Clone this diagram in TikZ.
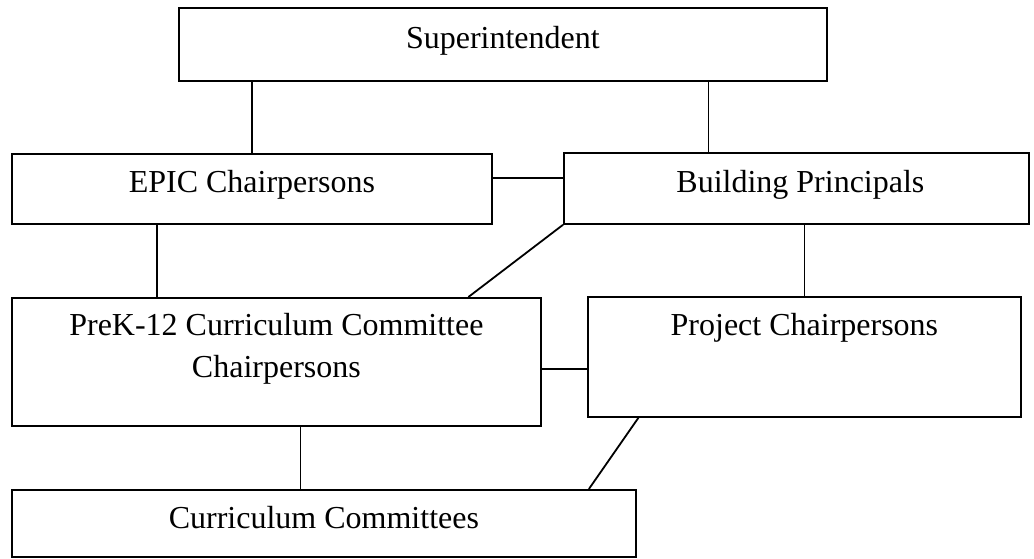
\documentclass[tikz,border=0pt]{standalone}
\usepackage{fontspec}
\setmainfont{Liberation Serif}
\begin{document}
\begin{tikzpicture}[x=1pt,y=-1pt,line width=1.8pt,
  box/.style={draw,rectangle,anchor=north west,inner sep=0pt},
  lbl/.style={anchor=base,align=center,inner sep=0pt,font=\fontsize{32}{42}\selectfont}]
\useasboundingbox (0,0) rectangle (1034,558);
% boxes
\node[box,minimum width=648pt,minimum height=73pt] (sup) at (178,7) {};
\node[box,minimum width=480pt,minimum height=70pt] (epic) at (11,153) {};
\node[box,minimum width=465pt,minimum height=71pt] (bldg) at (563,152) {};
\node[box,minimum width=529pt,minimum height=128pt] (prek) at (11,297) {};
\node[box,minimum width=433pt,minimum height=120pt] (proj) at (587,296) {};
\node[box,minimum width=624pt,minimum height=67pt] (curr) at (11,489) {};
% texts
\node[lbl] (suptxt) at ([yshift=-41pt]sup.north) {Superintendent};
\node[lbl] (epictxt) at ([yshift=-39pt]epic.north) {EPIC Chairpersons};
\node[lbl] (bldgtxt) at ([xshift=4pt,yshift=-40pt]bldg.north) {Building Principals};
\node[lbl] (prektxt) at ([yshift=-80pt]prek.north) {PreK-12 Curriculum Committee\\Chairpersons};
\node[lbl] (projtxt) at ([yshift=-39pt]proj.north) {Project Chairpersons};
\node[lbl] (currtxt) at ([yshift=-39pt]curr.north) {Curriculum Committees};
% connectors
\draw (epic.north) -- (epic.north |- sup.south);
\draw ([xshift=-88pt]bldg.north) -- ([xshift=-88pt]bldg.north |- sup.south);
\draw ([yshift=11pt]epic.east) -- ([yshift=11pt]epic.east -| bldg.west);
\draw ([xshift=-95pt]epic.south) -- ([xshift=-95pt]epic.south |- prek.north);
\draw (bldg.south west) -- ([xshift=192pt]prek.north);
\draw (proj.north) -- (proj.north |- bldg.south);
\draw ([yshift=-7pt]prek.east) -- ([yshift=-7pt]prek.east -| proj.west);
\draw ([xshift=24pt]prek.south) -- ([xshift=24pt]prek.south |- curr.north);
\draw ([xshift=-166pt]proj.south) -- ([xshift=265pt]curr.north);
\end{tikzpicture}
\end{document}
